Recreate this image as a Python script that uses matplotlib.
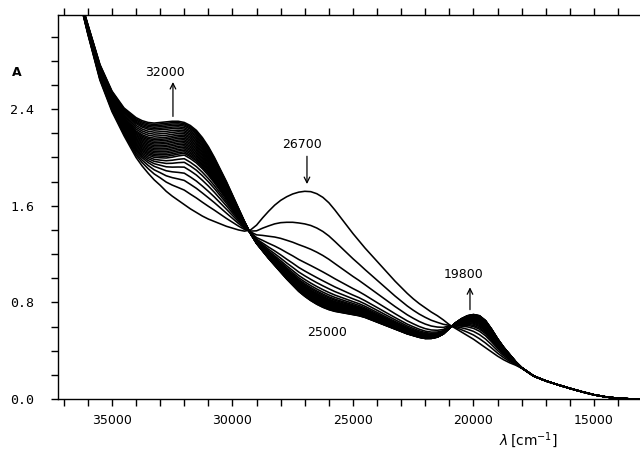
import numpy as np
import matplotlib
matplotlib.use('Agg')
import matplotlib.pyplot as plt

wn = [36400, 36000, 35500, 35000, 34500, 34000, 33750, 33500, 33250, 33000,
      32750, 32500, 32250, 32000, 31750, 31500, 31250, 31000, 30750, 30500,
      30250, 30000, 29750, 29500, 29250, 29000, 28750, 28500,
      28250, 28000, 27750, 27500, 27250, 27000, 26750, 26500, 26250, 26000,
      25750, 25500, 25250, 25000, 24750, 24500, 24250, 24000, 23750, 23500,
      23250, 23000, 22750, 22500, 22250, 22000, 21750, 21500, 21250, 21000,
      20750, 20500, 20250, 20000, 19750, 19500, 19250, 19000, 18750, 18500,
      18250, 18000, 17500, 17000, 16500, 16000, 15500, 15000, 14500, 14000,
      13500, 13000]

# first spectrum (band at 26700)
a_first = [3.35, 3.02, 2.64, 2.38, 2.18, 2.00, 1.93, 1.87, 1.815, 1.77,
           1.72, 1.68, 1.645, 1.61, 1.575, 1.545, 1.515, 1.49, 1.47, 1.45,
           1.43, 1.415, 1.40, 1.39, 1.40, 1.44, 1.50, 1.555,
           1.605, 1.645, 1.675, 1.698, 1.713, 1.72, 1.717, 1.70, 1.67, 1.625,
           1.565, 1.50, 1.435, 1.37, 1.31, 1.25, 1.195, 1.14, 1.085, 1.03,
           0.975, 0.925, 0.875, 0.83, 0.79, 0.755, 0.72, 0.69, 0.655, 0.615,
           0.585, 0.555, 0.525, 0.495, 0.46, 0.425, 0.39, 0.355, 0.325, 0.30,
           0.28, 0.255, 0.19, 0.15, 0.118, 0.088, 0.06, 0.035, 0.017, 0.006,
           0.001, 0.0]

# last spectrum (bands at 32000 and 19800)
a_last = [3.37, 3.10, 2.77, 2.55, 2.41, 2.33, 2.305, 2.29, 2.285, 2.29,
          2.295, 2.30, 2.30, 2.29, 2.265, 2.225, 2.165, 2.09, 2.00, 1.90,
          1.80, 1.69, 1.58, 1.47, 1.37, 1.29, 1.23, 1.17,
          1.115, 1.06, 1.005, 0.955, 0.905, 0.865, 0.83, 0.80, 0.775, 0.755,
          0.74, 0.73, 0.72, 0.71, 0.70, 0.685, 0.665, 0.645, 0.625, 0.605,
          0.585, 0.565, 0.545, 0.53, 0.515, 0.505, 0.505, 0.515, 0.54, 0.585,
          0.63, 0.665, 0.69, 0.70, 0.69, 0.65, 0.58, 0.50, 0.43, 0.37,
          0.31, 0.26, 0.19, 0.15, 0.118, 0.088, 0.06, 0.035, 0.017, 0.006,
          0.001, 0.0]

# absorbance of every recorded curve read at four wavenumbers
at_34000 = [2.00, 2.02, 2.035, 2.05, 2.06, 2.07, 2.08, 2.09, 2.10, 2.11,
            2.12, 2.13, 2.14, 2.15, 2.16, 2.17, 2.18, 2.19, 2.20, 2.21,
            2.22, 2.235, 2.25, 2.265, 2.28, 2.29, 2.30, 2.31, 2.32, 2.33]
at_32000 = [1.61, 1.73, 1.81, 1.87, 1.92, 1.96, 1.99, 2.02, 2.035, 2.047,
            2.06, 2.072, 2.085, 2.097, 2.11, 2.122, 2.135, 2.147, 2.16, 2.172,
            2.185, 2.197, 2.21, 2.222, 2.235, 2.247, 2.26, 2.27, 2.28, 2.29]
at_27000 = [1.72, 1.45, 1.26, 1.13, 1.06, 1.02, 0.99, 0.97, 0.955, 0.945,
            0.935, 0.928, 0.921, 0.915, 0.909, 0.903, 0.897, 0.892, 0.887, 0.882,
            0.878, 0.874, 0.870, 0.866, 0.863, 0.860, 0.857, 0.855, 0.852, 0.85]
at_20000 = [0.495, 0.53, 0.56, 0.585, 0.60, 0.61, 0.62, 0.628, 0.636, 0.643,
            0.65, 0.656, 0.661, 0.666, 0.67, 0.674, 0.678, 0.681, 0.684, 0.687,
            0.689, 0.691, 0.693, 0.694, 0.695, 0.696, 0.697, 0.698, 0.699, 0.70]

wn = np.array(wn, dtype=float)
a_first = np.array(a_first)
a_last = np.array(a_last)


def frac(vals, ref):
    i = list(wn).index(ref)
    return (np.array(vals) - a_first[i]) / (a_last[i] - a_first[i])


f34 = frac(at_34000, 34000)
f32 = frac(at_32000, 32000)
f27 = frac(at_27000, 27000)
f20 = frac(at_20000, 20000)

# weight of the 34000 reading, going over from the 32000 reading
w34 = np.clip((wn - 32000) / 2000, 0, 1)

fig = plt.figure(figsize=(6.4, 4.49), dpi=100)
ax = fig.add_axes([58 / 640, 1 - 399 / 449, (640 - 58) / 640, 384 / 449])

for k in range(len(at_27000)):
    f_left = (1 - w34) * f32[k] + w34 * f34[k]
    f = np.select([wn > 29300, wn > 21000], [f_left, f27[k]], f20[k])
    ax.plot(wn, a_first + f * (a_last - a_first), color='black', lw=1.15)

ax.set_xlim(37240, 13090)
ax.set_ylim(0, 3.18)

xt = np.arange(14000, 38000, 1000)
ax.set_xticks(xt)
ax.set_xticklabels([str(v) if v % 5000 == 0 else '' for v in xt])
yt = np.round(np.arange(0, 3.01, 0.2), 1)
ax.set_yticks(yt)
ax.set_yticklabels(['%.1f' % v if abs(v / 0.8 - round(v / 0.8)) < 1e-6 else '' for v in yt],
                   family='DejaVu Sans Mono')
ax.tick_params(axis='x', direction='out', length=5, width=1, labelsize=9, pad=6,
               top=True)
ax.tick_params(axis='y', direction='out', length=5, width=1, labelsize=9.5, pad=12)
ax.spines['right'].set_visible(False)
for s in ['left', 'bottom', 'top']:
    ax.spines[s].set_linewidth(1.0)

ap = dict(arrowstyle='->', lw=0.9, color='black', shrinkA=0, shrinkB=0)
ax.annotate('', xy=(32470, 2.625), xytext=(32470, 2.34), arrowprops=ap)
ax.text(32800, 2.70, '32000', ha='center', va='center', fontsize=9)
ax.annotate('', xy=(26909, 1.78), xytext=(26909, 2.01), arrowprops=ap)
ax.text(27116, 2.11, '26700', ha='center', va='center', fontsize=9)
ax.annotate('', xy=(20145, 0.925), xytext=(20145, 0.74), arrowprops=ap)
ax.text(20394, 1.03, '19800', ha='center', va='center', fontsize=9)
ax.text(26079, 0.55, '25000', ha='center', va='center', fontsize=9)

ax.text(17740, -0.34, r'$\lambda\,\left[\mathrm{cm}^{-1}\right]$', ha='center',
        va='center', fontsize=10, clip_on=False)
fig.text(17 / 640, 1 - 73 / 449, 'A', ha='center', va='center', fontsize=9,
         fontweight='bold')

fig.savefig('out.png', dpi=100)
